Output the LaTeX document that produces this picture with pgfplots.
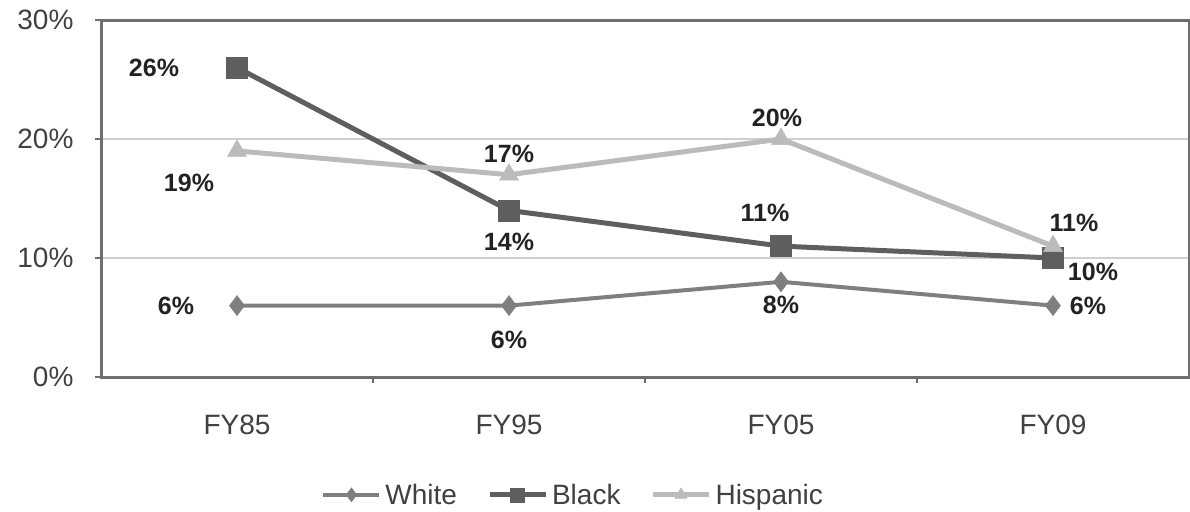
\documentclass[border=0pt]{standalone}
\usepackage{fontspec}
\setmainfont{Liberation Sans}
\usepackage{pgfplots}
\pgfplotsset{compat=1.18}
\definecolor{cw}{HTML}{7F7F7F}
\definecolor{cb}{HTML}{5E5E5E}
\definecolor{ch}{HTML}{BBBBBB}
\definecolor{gridc}{HTML}{CFCFCF}
\definecolor{axc}{HTML}{6E6E6E}
\definecolor{tickc}{HTML}{404040}
\definecolor{labc}{HTML}{222222}
\begin{document}
\begin{tikzpicture}
\begin{axis}[name=ax, scale only axis, width=1088pt, height=357pt,
  xmin=-0.5, xmax=3.5, ymin=0, ymax=30,
  xtick={0,1,2,3}, xticklabels={FY85,FY95,FY05,FY09},
  ytick={0,10,20,30}, yticklabels={0\%,10\%,20\%,30\%},
  tick align=outside, tick pos=left,
  xtick style={draw=none},
  ytick style={axc, line width=2pt},
  major tick length=6pt,
  extra x ticks={0.5,1.5,2.5}, extra x tick labels={},
  extra x tick style={xtick style={draw=axc, line width=2pt}, grid=none},
  ymajorgrids, grid style={gridc, line width=2pt},
  axis line style={axc, line width=3pt},
  tick label style={font=\fontsize{28}{30}\selectfont, text=tickc},
  yticklabel style={xshift=-18pt},
  xticklabel style={yshift=-28pt},
  legend style={at={(0.434,-0.33)}, anchor=center, draw=none, legend columns=-1,
    font=\fontsize{28}{30}\selectfont, text=tickc, inner sep=0pt,
    /tikz/every even column/.append style={column sep=28pt},
    /tikz/every odd column/.append style={column sep=2pt}},
  legend image code/.code={\draw[mark repeat=2,mark phase=2, mark size=7pt] plot coordinates {(0pt,0pt) (28pt,0pt) (56pt,0pt)};},
]
\addplot[cw, line width=4pt, mark=diamond*, mark size=10pt, mark options={solid, line width=0.5pt}] coordinates {(0,6)(1,6)(2,8)(3,6)};
\addlegendentry{White}
\addplot[cb, line width=5pt, mark=square*, mark size=10.5pt, mark options={solid, line width=0.5pt}] coordinates {(0,26)(1,14)(2,11)(3,10)};
\addlegendentry{Black}
\addplot[ch, line width=5pt, mark=triangle*, mark size=11pt, mark options={solid, line width=0.5pt}] coordinates {(0,19)(1,17)(2,20)(3,11)};
\addlegendentry{Hispanic}
\begin{scope}[every node/.style={font=\fontsize{25}{27}\selectfont\bfseries, text=labc}]
\node[xshift=-83pt] at (axis cs:0,26) {26\%};
\node[xshift=-48pt, yshift=-32pt] at (axis cs:0,19) {19\%};
\node[yshift=21pt] at (axis cs:1,17) {17\%};
\node[yshift=-31pt] at (axis cs:1,14) {14\%};
\node[xshift=-4pt, yshift=21pt] at (axis cs:2,20) {20\%};
\node[xshift=-16pt, yshift=33pt] at (axis cs:2,11) {11\%};
\node[xshift=21pt, yshift=23pt] at (axis cs:3,11) {11\%};
\node[xshift=40pt, yshift=-14pt] at (axis cs:3,10) {10\%};
\node[xshift=-61pt] at (axis cs:0,6) {6\%};
\node[yshift=-34pt] at (axis cs:1,6) {6\%};
\node[yshift=-23pt] at (axis cs:2,8) {8\%};
\node[xshift=35pt] at (axis cs:3,6) {6\%};
\end{scope}
\end{axis}
\pgfresetboundingbox
\path ([xshift=-101pt,yshift=-134pt]ax.south west) rectangle ([xshift=1pt,yshift=20pt]ax.north east);
\end{tikzpicture}
\end{document}
